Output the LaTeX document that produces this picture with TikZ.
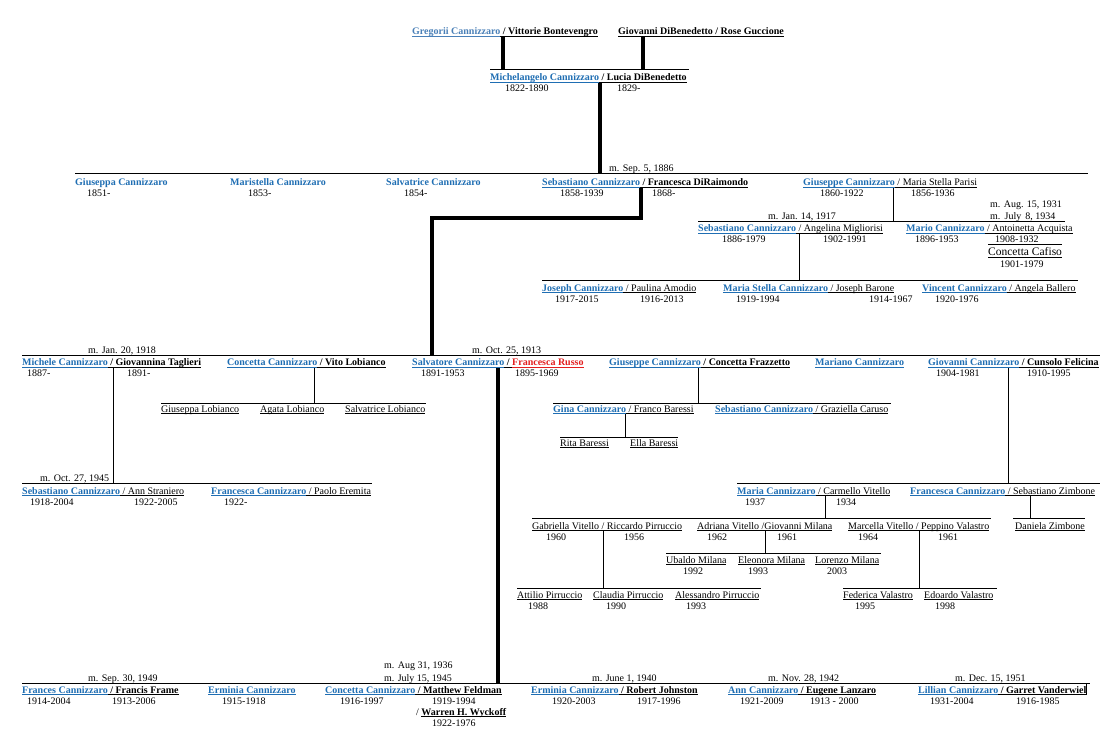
\documentclass[tikz,border=0pt]{standalone}
\usepackage{fontspec}
\setmainfont{Liberation Serif}
\definecolor{nameblue}{HTML}{1F6EB3}
\definecolor{oldblue}{HTML}{4A80B8}
\definecolor{namered}{HTML}{E31E1E}
\newcommand\undl[1]{{\setbox0=\hbox{#1}\rlap{\rule[-1.8pt]{\wd0}{0.6pt}}\box0}}
\newcommand\bn[1]{{\color{nameblue}\undl{\textbf{#1}}}}
\newcommand\bnu[1]{{\color{nameblue}\textbf{#1}}}
\newcommand\bk[1]{\undl{\textbf{#1}}}
\newcommand\rg[1]{\undl{#1}}
\tikzset{
  txt/.style={anchor=base west,inner sep=0pt,font=\fontsize{10}{12}\selectfont},
  date/.style={txt},
  mar/.style={txt},
  rule/.style={line width=1pt},
  link/.style={line width=0.8pt},
  trunk/.style={line width=3.5pt,line join=miter}
}
\begin{document}
\begin{tikzpicture}[x=1pt,y=-1pt]
  \useasboundingbox[fill=white] (0,0) rectangle (1112,738);
  \coordinate (lvMich) at (0,70);
  \coordinate (lvSeb) at (0,174);
  \coordinate (lvGiu) at (0,222);
  \coordinate (lvSeb2) at (0,281);
  \coordinate (lvSal) at (0,355);
  \coordinate (lvLob) at (0,403);
  \coordinate (lvBar) at (0,437);
  \coordinate (lvMic) at (0,483);
  \coordinate (lvVit) at (0,518);
  \coordinate (lvMil) at (0,553);
  \coordinate (lvPir) at (0,588);
  \coordinate (lvKids) at (0,683);

  \node[txt] (greg) at (412,35) {{\color{oldblue}\undl{\textbf{Gregorii Cannizzaro}}}\bk{ / Vittorie Bontevengro}};
  \node[txt] (giov) at (618,35) {\bk{Giovanni DiBenedetto / Rose Guccione}};
  \draw[rule] (490,70) -- (689,70);
  \node[txt] (mich) at (490,81) {\bn{Michelangelo Cannizzaro}\bk{ / Lucia DiBenedetto}};
  \node[date] (michA) at (505,92) {1822-1890};
  \node[date] (michB) at (617,92) {1829-};
  \draw[trunk] (greg.south -| 503,0) -- (503,0 |- lvMich);
  \draw[trunk] (giov.south -| 643,0) -- (643,0 |- lvMich);
  \draw[trunk] (mich.south -| 600,0) -- (600,0 |- lvSeb);

  \draw[rule] (75,174) -- (1088,174);
  \node[mar] (m1886) at (609,172) {m. Sep. 5, 1886};
  \node[txt] (giuseppa) at (75,186) {\bnu{Giuseppa Cannizzaro}};
  \node[date] (giuseppaA) at (87,197) {1851-};
  \node[txt] (maristella) at (230,186) {\bnu{Maristella Cannizzaro}};
  \node[date] (maristellaA) at (248,197) {1853-};
  \node[txt] (salvatrice) at (386,186) {\bnu{Salvatrice Cannizzaro}};
  \node[date] (salvatriceA) at (404,197) {1854-};
  \node[txt] (seb) at (542,186) {\bn{Sebastiano Cannizzaro}\bk{ / Francesca DiRaimondo}};
  \node[date] (sebA) at (560,197) {1858-1939};
  \node[date] (sebB) at (652,197) {1868-};
  \node[txt] (giu) at (803,186) {\bn{Giuseppe Cannizzaro}\rg{ / Maria Stella Parisi}};
  \node[date] (giuA) at (820,197) {1860-1922};
  \node[date] (giuB) at (911,197) {1856-1936};
  \draw[trunk] (seb.south -| 641,0) |- (432,218) -- (432,0 |- lvSal);
  \draw[link] (giu.south -| 893,0) -- (893,0 |- lvGiu);

  \draw[rule] (698,222) -- (1065,222);
  \node[mar] (m1917) at (768,220) {m. Jan. 14, 1917};
  \node[mar] (m1931) at (990,208) {m. Aug. 15, 1931};
  \node[mar] (m1934) at (990,220) {m.~\,July~\,8, 1934};
  \node[txt] (seb2) at (698,232) {\bn{Sebastiano Cannizzaro}\rg{ / Angelina Migliorisi}};
  \node[date] (seb2A) at (722,243) {1886-1979};
  \node[date] (seb2B) at (823,243) {1902-1991};
  \node[txt] (mario) at (906,232) {\bn{Mario Cannizzaro}\rg{ / Antoinetta Acquista}};
  \node[date] (marioA) at (915,243) {1896-1953};
  \node[date] (marioB) at (995,243) {1908-1932};
  \draw[rule] (988,245) -- (1062,245);
  \node[txt,font=\fontsize{11.5}{13}\selectfont] (cafiso) at (988,256) {\rg{Concetta Cafiso}};
  \node[date] (cafisoA) at (1000,268) {1901-1979};
  \draw[link] (seb2.south -| 799,0) -- (799,0 |- lvSeb2);

  \draw[rule] (542,281) -- (1078,281);
  \node[txt] (joseph) at (542,291) {\bn{Joseph Cannizzaro}\rg{ / Paulina Amodio}};
  \node[date] (josephA) at (555,302) {1917-2015};
  \node[date] (josephB) at (640,302) {1916-2013};
  \node[txt] (mstella) at (723,291) {\bn{Maria Stella Cannizzaro}\rg{ / Joseph Barone}};
  \node[date] (mstellaA) at (736,302) {1919-1994};
  \node[date] (mstellaB) at (869,302) {1914-1967};
  \node[txt] (vincent) at (922,291) {\bn{Vincent Cannizzaro}\rg{ / Angela Ballero}};
  \node[date] (vincentA) at (935,302) {1920-1976};

  \draw[rule] (22,355) -- (1100,355);
  \node[mar] (m1918) at (88,353) {m. Jan. 20, 1918};
  \node[mar] (m1913) at (472,353) {m. Oct. 25, 1913};
  \node[txt] (michele) at (22,366) {\bn{Michele Cannizzaro}\bk{ / Giovannina Taglieri}};
  \node[date] (micheleA) at (27,377) {1887-};
  \node[date] (micheleB) at (127,377) {1891-};
  \node[txt] (concetta) at (227,366) {\bn{Concetta Cannizzaro}\bk{ / Vito Lobianco}};
  \node[txt] (salv) at (412,366) {\bn{Salvatore Cannizzaro}\bk{ / }{\color{namered}\undl{\textbf{Francesca Russo}}}};
  \node[date] (salvA) at (421,377) {1891-1953};
  \node[date] (salvB) at (515,377) {1895-1969};
  \node[txt] (giuf) at (609,366) {\bn{Giuseppe Cannizzaro}\bk{ / Concetta Frazzetto}};
  \node[txt] (mariano) at (815,366) {\bn{Mariano Cannizzaro}};
  \node[txt] (giovc) at (928,366) {\bn{Giovanni Cannizzaro}\bk{ / Cunsolo Felicina}};
  \node[date] (giovcA) at (936,377) {1904-1981};
  \node[date] (giovcB) at (1027,377) {1910-1995};
  \draw[trunk] (salv.south -| 498,0) -- (498,0 |- lvKids);
  \draw[link] (michele.south -| 113,0) -- (113,0 |- lvMic);
  \draw[link] (concetta.south -| 314,0) -- (314,0 |- lvLob);
  \draw[link] (giuf.south -| 698,0) -- (698,0 |- lvLob);
  \draw[link] (giovc.south -| 1008,0) -- (1008,0 |- lvMic);

  \draw[rule] (22,483) -- (372,483);
  \node[mar] (m1945) at (40,481) {m. Oct. 27, 1945};
  \node[txt] (seb3) at (22,494) {\bn{Sebastiano Cannizzaro}\rg{ / Ann Straniero}};
  \node[date] (seb3A) at (30,505) {1918-2004};
  \node[date] (seb3B) at (134,505) {1922-2005};
  \node[txt] (fran3) at (211,494) {\bn{Francesca Cannizzaro}\rg{ / Paolo Eremita}};
  \node[date] (fran3A) at (224,505) {1922-};

  \draw[rule] (161,403) -- (426,403);
  \node[txt] (lobA) at (161,412) {\rg{Giuseppa Lobianco}};
  \node[txt] (lobB) at (260,412) {\rg{Agata Lobianco}};
  \node[txt] (lobC) at (345,412) {\rg{Salvatrice Lobianco}};

  \draw[rule] (553,403) -- (891,403);
  \node[txt] (gina) at (553,412) {\bn{Gina Cannizzaro}\rg{ / Franco Baressi}};
  \node[txt] (seb4) at (715,412) {\bn{Sebastiano Cannizzaro}\rg{ / Graziella Caruso}};
  \draw[link] (gina.south -| 625,0) -- (625,0 |- lvBar);
  \draw[rule] (560,437) -- (678,437);
  \node[txt] (rita) at (560,446) {\rg{Rita Baressi}};
  \node[txt] (ella) at (630,446) {\rg{Ella Baressi}};

  \draw[rule] (737,483) -- (1100,483);
  \node[txt] (maria) at (737,494) {\bn{Maria Cannizzaro}\rg{ / Carmello Vitello}};
  \node[date] (mariaA) at (745,505) {1937};
  \node[date] (mariaB) at (836,505) {1934};
  \node[txt] (franz) at (910,494) {\bn{Francesca Cannizzaro}\rg{ / Sebastiano Zimbone}};
  \draw[link] (maria.south -| 825,0) -- (825,0 |- lvVit);
  \draw[link] (franz.south -| 1030,0) -- (1030,0 |- lvVit);

  \draw[rule] (532,518) -- (991,518);
  \draw[rule] (1013,518) -- (1085,518);
  \node[txt] (gabriella) at (532,529) {\rg{Gabriella Vitello / Riccardo Pirruccio}};
  \node[date] (gabriellaA) at (546,540) {1960};
  \node[date] (gabriellaB) at (624,540) {1956};
  \node[txt] (adriana) at (697,529) {\rg{Adriana Vitello /Giovanni Milana}};
  \node[date] (adrianaA) at (707,540) {1962};
  \node[date] (adrianaB) at (777,540) {1961};
  \node[txt] (marcella) at (848,529) {\rg{Marcella Vitello / Peppino Valastro}};
  \node[date] (marcellaA) at (858,540) {1964};
  \node[date] (marcellaB) at (938,540) {1961};
  \node[txt] (daniela) at (1015,529) {\rg{Daniela Zimbone}};
  \draw[link] (gabriella.south -| 603,0) -- (603,0 |- lvPir);
  \draw[link] (adriana.south -| 765,0) -- (765,0 |- lvMil);
  \draw[link] (marcella.south -| 919,0) -- (919,0 |- lvPir);

  \draw[rule] (666,553) -- (881,553);
  \node[txt] (ubaldo) at (666,563) {\rg{Ubaldo Milana}};
  \node[date] (ubaldoA) at (683,574) {1992};
  \node[txt] (eleonora) at (738,563) {\rg{Eleonora Milana}};
  \node[date] (eleonoraA) at (748,574) {1993};
  \node[txt] (lorenzo) at (815,563) {\rg{Lorenzo Milana}};
  \node[date] (lorenzoA) at (827,574) {2003};

  \draw[rule] (517,588) -- (761,588);
  \node[txt] (attilio) at (517,598) {\rg{Attilio Pirruccio}};
  \node[date] (attilioA) at (528,609) {1988};
  \node[txt] (claudia) at (593,598) {\rg{Claudia Pirruccio}};
  \node[date] (claudiaA) at (606,609) {1990};
  \node[txt] (alessandro) at (675,598) {\rg{Alessandro Pirruccio}};
  \node[date] (alessandroA) at (686,609) {1993};

  \draw[rule] (843,588) -- (997,588);
  \node[txt] (federica) at (843,598) {\rg{Federica Valastro}};
  \node[date] (federicaA) at (855,609) {1995};
  \node[txt] (edoardo) at (924,598) {\rg{Edoardo Valastro}};
  \node[date] (edoardoA) at (935,609) {1998};

  \draw[rule] (22,683) -- (1090,683);
  \node[mar] (m1949) at (88,681) {m. Sep. 30, 1949};
  \node[mar] (m1936) at (384,668) {m. Aug 31, 1936};
  \node[mar] (m1945b) at (384,681) {m. July 15, 1945};
  \node[mar] (m1940) at (592,681) {m. June 1, 1940};
  \node[mar] (m1942) at (768,681) {m. Nov. 28, 1942};
  \node[mar] (m1951) at (955,681) {m. Dec. 15, 1951};
  \node[txt] (frances) at (22,693) {\bn{Frances Cannizzaro}\bk{ / Francis Frame}};
  \node[date] (francesA) at (27,704) {1914-2004};
  \node[date] (francesB) at (112,704) {1913-2006};
  \node[txt] (erminia) at (208,693) {\bn{Erminia Cannizzaro}};
  \node[date] (erminiaA) at (222,704) {1915-1918};
  \node[txt] (concf) at (325,693) {\bn{Concetta Cannizzaro}\bk{ / Matthew Feldman}};
  \node[date] (concfA) at (340,704) {1916-1997};
  \node[date] (concfB) at (432,704) {1919-1994};
  \node[txt] (wyckoff) at (416,715) {/ \bk{Warren H. Wyckoff}};
  \node[date] (wyckoffA) at (432,726) {1922-1976};
  \node[txt] (erminia2) at (531,693) {\bn{Erminia Cannizzaro}\bk{ / Robert Johnston}};
  \node[date] (erminia2A) at (552,704) {1920-2003};
  \node[date] (erminia2B) at (637,704) {1917-1996};
  \node[txt] (ann) at (728,693) {\bn{Ann Cannizzaro}\bk{ / Eugene Lanzaro}};
  \node[date] (annA) at (740,704) {1921-2009};
  \node[date] (annB) at (810,704) {1913 - 2000};
  \node[txt] (lillian) at (918,693) {\bn{Lillian Cannizzaro}\bk{ / Garret Vanderwiel}};
  \node[date] (lillianA) at (930,704) {1931-2004};
  \node[date] (lillianB) at (1016,704) {1916-1985};
  \draw[link] (lillian.east |- lvKids) -- (lillian.south east);
\end{tikzpicture}
\end{document}
